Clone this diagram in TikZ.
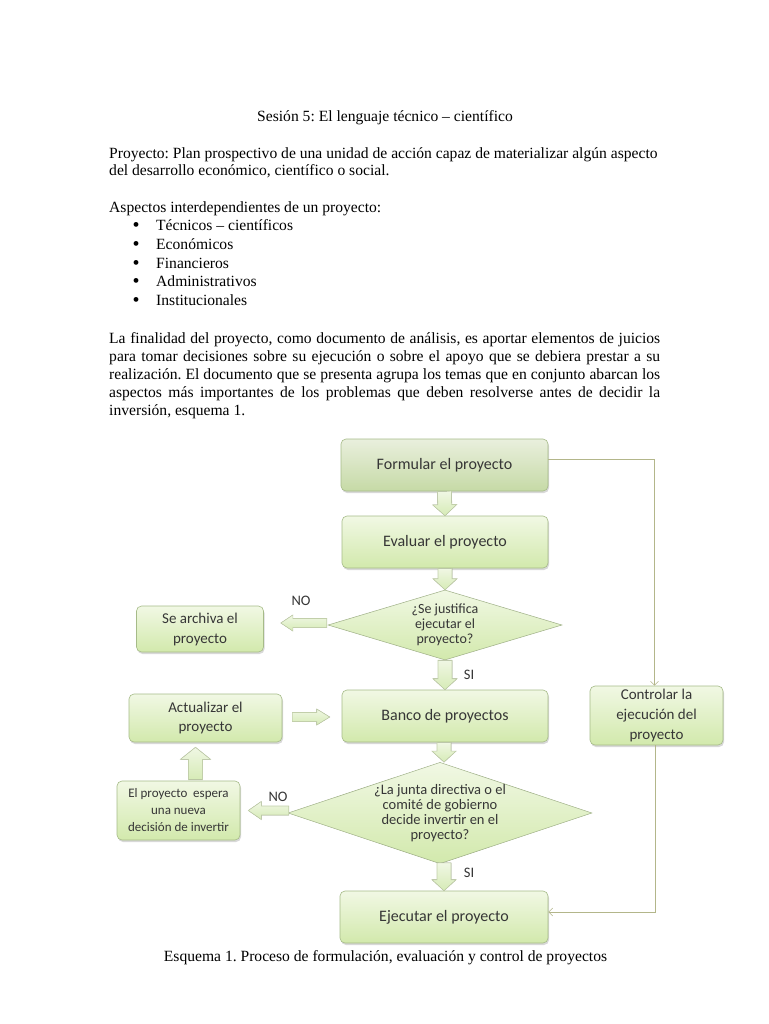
\documentclass[tikz,border=0pt]{standalone}
\usepackage{fontspec}
\setmainfont{Liberation Serif}
\newfontfamily\calib{Carlito}
\usetikzlibrary{shapes.geometric,calc,arrows.meta,shadows}
\definecolor{boxtop}{HTML}{F1F8E4}
\definecolor{boxbot}{HTML}{D2E9AC}
\definecolor{fboxtop}{HTML}{E9EFDD}
\definecolor{fboxbot}{HTML}{C6DAA6}
\definecolor{boxdraw}{HTML}{A6BB88}
\definecolor{txt}{HTML}{363636}
\definecolor{conncol}{HTML}{B3B68A}
\definecolor{arrtop}{HTML}{F0F7E4}
\definecolor{arrbot}{HTML}{D6EBB6}
\definecolor{arrdraw}{HTML}{C2CFAA}
\frenchspacing
\newcommand\blockarr[6][]{%
  \coordinate (baA) at (#2);
  \coordinate (baB) at (#3);
  \coordinate (bah) at ($(baB)!#6!(baA)$);
  \filldraw[barrow,#1] ($(baA)!#4!90:(baB)$) -- ($(bah)!#4!90:(baB)$) -- ($(bah)!#5!90:(baB)$) -- (baB) -- ($(bah)!#5!-90:(baB)$) -- ($(bah)!#4!-90:(baB)$) -- ($(baA)!#4!-90:(baB)$) -- cycle;}
\begin{document}
\begin{tikzpicture}[x=1pt,y=-1pt,
  page/.style={inner sep=0pt,font=\fontsize{15.6}{18}\selectfont,anchor=base west},
  box/.style={rounded corners=5pt,draw=boxdraw,line width=0.6pt,top color=boxtop,bottom color=boxbot,
    drop shadow={shadow xshift=1pt,shadow yshift=-2pt,opacity=.25,fill=black!60},
    align=center,text=txt,inner sep=0pt,font=\calib\fontsize{16}{20}\selectfont},
  fbox/.style={box,top color=fboxtop,bottom color=fboxbot},
  dec/.style={diamond,draw=boxdraw!80!gray,line width=0.5pt,top color=boxtop,bottom color=boxbot,
    align=center,text=txt,inner sep=0pt,font=\calib\fontsize{14}{15}\selectfont},
  barrow/.style={draw=arrdraw,line width=0.6pt,top color=arrtop,bottom color=arrbot},
  conn/.style={draw=conncol,line width=0.6pt,-{Straight Barb[length=4pt,width=8pt]}},
  lbl/.style={text=txt,font=\calib\fontsize{14.5}{16}\selectfont,inner sep=0pt}]
\useasboundingbox (0,0) rectangle (768,1024);
\fill[white] (0,0) rectangle (768,1024);
% page text
\node[page,anchor=base] (title) at (385,122) {Sesión 5: El lenguaje técnico – científico};
\node[page] (p1) at (109,159) {Proyecto: Plan prospectivo de una unidad de acción capaz de materializar algún aspecto};
\node[page] (p2) at (109,176) {del desarrollo económico, científico o social.};
\node[page] (p3) at (109,213) {Aspectos interdependientes de un proyecto:};
\foreach \t [count=\i] in {Técnicos – científicos,Económicos,Financieros,Administrativos,Institucionales}{
  \node[page,anchor=base,font=\fontsize{20}{20}\selectfont] (b\i) at (136,{213+18.7*\i}) {\textbullet};
  \node[page] (l\i) at (156,{212+18.7*\i}) {\t};
}
\node[page] (q1) at (109,343) {\makebox[551pt][s]{La finalidad del proyecto, como documento de análisis, es aportar elementos de juicios}};
\node[page] (q2) at (109,361.5) {\makebox[551pt][s]{para tomar decisiones sobre su ejecución o sobre el apoyo que se debiera prestar a su}};
\node[page] (q3) at (109,379.5) {\makebox[551pt][s]{realización. El documento que se presenta agrupa los temas que en conjunto abarcan los}};
\node[page] (q4) at (109,397) {\makebox[551pt][s]{aspectos más importantes de los problemas que deben resolverse antes de decidir la}};
\node[page] (q5) at (109,415) {inversión, esquema 1.};
\node[page,anchor=base] (cap) at (385.5,961) {Esquema 1. Proceso de formulación, evaluación y control de proyectos};
% diagram nodes
\node[fbox,minimum width=207pt,minimum height=52pt] (formular) at (444.5,465) {Formular el proyecto};
\node[box,minimum width=206pt,minimum height=52pt] (evaluar) at (445,542) {Evaluar el proyecto};
\node[dec,aspect=3.3,minimum width=234pt,minimum height=70pt] (d1) at (445,625) {¿Se justifica\\ejecutar el\\proyecto?};
\node[box,minimum width=206pt,minimum height=52pt] (banco) at (445,716) {Banco de proyectos};
\node[dec,aspect=3,minimum width=295pt,minimum height=97pt,font=\calib\fontsize{14.5}{15}\selectfont] (d2) at (440,813) {¿La junta directiva o el\\comité de gobierno\\decide invertir en el\\proyecto?};
\node[box,minimum width=208pt,minimum height=52pt] (ejecutar) at (444,917) {Ejecutar el proyecto};
\node[box,minimum width=127pt,minimum height=46pt,font=\calib\fontsize{15}{20}\selectfont] (archiva) at (200,629) {Se archiva el\\proyecto};
\node[box,minimum width=153pt,minimum height=48pt,font=\calib\fontsize{15}{19}\selectfont] (actualizar) at (205.5,718) {Actualizar el\\proyecto};
\node[box,minimum width=123pt,minimum height=59pt,font=\calib\fontsize{13}{17}\selectfont] (espera) at (178.5,810.5) {El proyecto \ espera\\una nueva\\decisión de invertir};
\node[box,minimum width=133pt,minimum height=59pt,font=\calib\fontsize{15}{20}\selectfont] (controlar) at (656.5,715.5) {Controlar la\\ejecución del\\proyecto};
% labels
\node[lbl] (no1) at (301,601) {NO};
\node[lbl] (si1) at (469,675) {SI};
\node[lbl] (no2) at (278,797) {NO};
\node[lbl] (si2) at (469,873) {SI};
% block arrows
\blockarr{formular.south}{evaluar.north}{7pt}{12pt}{11pt}
\blockarr{evaluar.south}{d1.north}{7pt}{12pt}{11pt}
\blockarr{d1.south}{banco.north}{7pt}{12pt}{11pt}
\blockarr{$(banco.south)+(-1,0)$}{$(banco.south|-d2.north)+(-1,0)$}{7pt}{12pt}{11pt}
\blockarr{$(ejecutar.north|-d2.south)+(0,-1)$}{ejecutar.north}{7pt}{12pt}{11pt}
\blockarr{$(d1.west)+(-1,-2)$}{$(archiva.east|-d1.west)+(17,-2)$}{4.5pt}{8pt}{12pt}
\blockarr{$(actualizar.east|-banco.west)+(10,1)$}{$(banco.west)+(-12,1)$}{4.5pt}{8pt}{13pt}
\blockarr{$(espera.north)+(17,-1)$}{$(espera.north|-actualizar.south)+(17,5)$}{7pt}{15pt}{12pt}
\blockarr{$(d2.west|-espera.east)+(1,0)$}{$(espera.east)+(8,0)$}{4.5pt}{9pt}{13pt}
% connectors
\draw[conn] ([yshift=6pt]formular.east) -| ([xshift=-2pt]controlar.north);
\draw[conn] ([xshift=-1pt]controlar.south) |- ([yshift=5pt]ejecutar.east);
\end{tikzpicture}
\end{document}
